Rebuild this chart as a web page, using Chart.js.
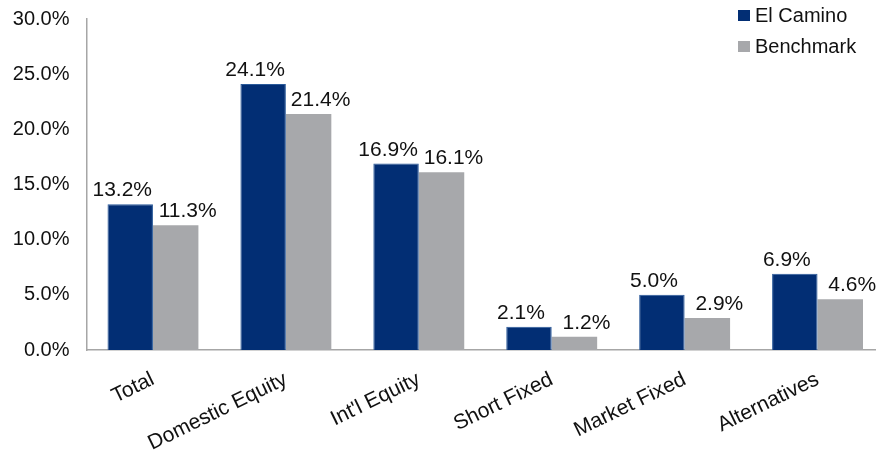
<!DOCTYPE html>
<html>
<head>
<meta charset="utf-8">
<script src="https://cdn.jsdelivr.net/npm/chart.js@4"></script>
<style>
html,body{margin:0;padding:0;background:#fff;overflow:hidden;width:876px;height:463px;}
#wrap{width:884px;height:463px;position:relative;}
</style>
</head>
<body>
<div id="wrap"><canvas id="c"></canvas></div>
<script>
const categories = ["Total", "Domestic Equity", "Int'l Equity", "Short Fixed", "Market Fixed", "Alternatives"];
const elCamino = [13.2, 24.1, 16.9, 2.1, 5.0, 6.9];
const benchmark = [11.3, 21.4, 16.1, 1.2, 2.9, 4.6];
const yTicks = [0, 5, 10, 15, 20, 25, 30];

const FONT = "'Liberation Sans', Arial, sans-serif";
const FS = 21;

const valueLabels = {
  id: 'valueLabels',
  afterDatasetsDraw(chart) {
    const ctx = chart.ctx;
    ctx.save();
    ctx.font = FS + 'px ' + FONT;
    ctx.fillStyle = '#111';
    ctx.textAlign = 'center';
    ctx.textBaseline = 'alphabetic';
    const offs = [{dx: -8, gap: 8}, {dx: 12, gap: 8}];
    chart.data.datasets.forEach((ds, di) => {
      const meta = chart.getDatasetMeta(di);
      meta.data.forEach((bar, i) => {
        const v = ds.data[i];
        ctx.fillText(v.toFixed(1) + '%', bar.x + offs[di].dx, bar.y - offs[di].gap);
      });
    });
    ctx.restore();
  }
};

const customLegend = {
  id: 'customLegend',
  afterDraw(chart) {
    const ctx = chart.ctx;
    ctx.save();
    ctx.font = '20px ' + FONT;
    ctx.textBaseline = 'middle';
    ctx.textAlign = 'left';
    chart.data.datasets.forEach((ds, i) => {
      const y = 16 + i * 31;
      ctx.fillStyle = ds.backgroundColor;
      ctx.fillRect(738, y - 6, 12, 11);
      ctx.fillStyle = '#111';
      ctx.fillText(ds.label, 755, y);
    });
    ctx.restore();
  }
};

new Chart(document.getElementById('c'), {
  type: 'bar',
  data: {
    labels: categories,
    datasets: [
      {label: 'El Camino', data: elCamino, backgroundColor: '#022E74', borderColor: '#2A5A9A', borderWidth: {top:1,left:1,right:1,bottom:0}, categoryPercentage: 0.684, barPercentage: 1.0},
      {label: 'Benchmark', data: benchmark, backgroundColor: '#A7A8AB', borderWidth: 0, categoryPercentage: 0.684, barPercentage: 1.0}
    ]
  },
  options: {
    responsive: true,
    maintainAspectRatio: false,
    animation: false,
    layout: {padding: {top: 19, left: 0, right: 0, bottom: 0}},
    plugins: {legend: {display: false}, tooltip: {enabled: false}},
    scales: {
      x: {
        grid: {display: false, drawTicks: false},
        border: {color: '#A6A6A6', width: 1.5},
        ticks: {
          font: {family: FONT, size: FS},
          color: '#111',
          minRotation: 26, maxRotation: 26,
          padding: 17,
          autoSkip: false
        },
        afterFit(s) { s.height = 113; s.paddingLeft = 0; s.paddingRight = 0; }
      },
      y: {
        min: 0, max: 30,
        afterBuildTicks(s) { s.ticks = yTicks.map(v => ({value: v})); },
        grid: {display: false, drawTicks: false},
        border: {color: '#A6A6A6', width: 1.5},
        ticks: {
          font: {family: FONT, size: 20},
          color: '#111',
          padding: 17,
          callback: v => Number(v).toFixed(1) + '%'
        },
        afterFit(s) { s.width = 86.5; s.paddingTop = 0; s.paddingBottom = 0; }
      }
    }
  },
  plugins: [valueLabels, customLegend]
});
</script>
</body>
</html>
